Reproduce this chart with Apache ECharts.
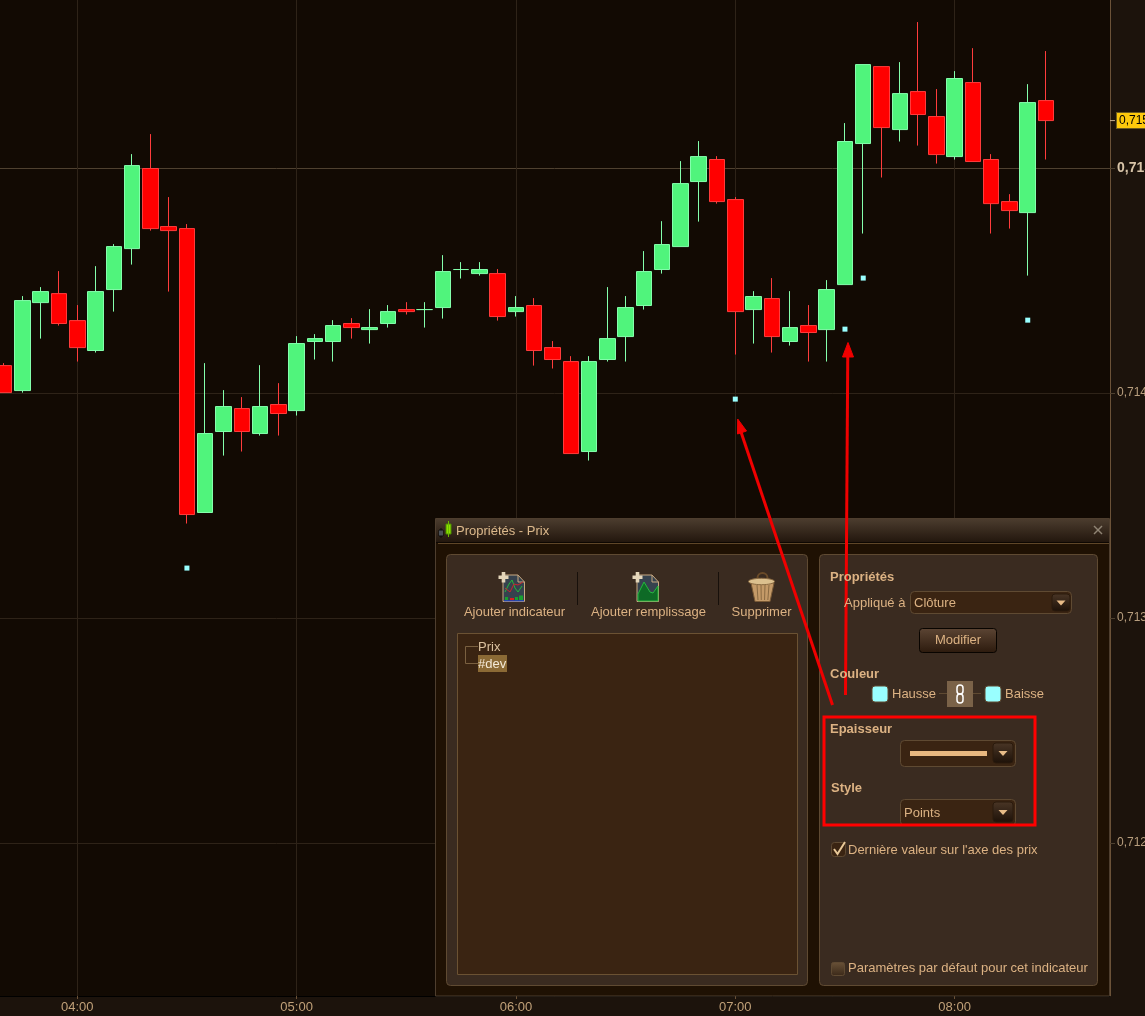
<!DOCTYPE html>
<html><head><meta charset="utf-8">
<style>html,body{margin:0;padding:0;background:#1c130c;overflow:hidden}#c{width:1145px;height:1016px}</style>
<script src="https://cdn.jsdelivr.net/npm/echarts@6/dist/echarts.min.js"></script>
</head><body><div id="c"></div>
<script>
const categories=['03:40','03:45','03:50','03:55','04:00','04:05','04:10','04:15','04:20','04:25','04:30','04:35','04:40','04:45','04:50','04:55','05:00','05:05','05:10','05:15','05:20','05:25','05:30','05:35','05:40','05:45','05:50','05:55','06:00','06:05','06:10','06:15','06:20','06:25','06:30','06:35','06:40','06:45','06:50','06:55','07:00','07:05','07:10','07:15','07:20','07:25','07:30','07:35','07:40','07:45','07:50','07:55','08:00','08:05','08:10','08:15','08:20','08:25','08:30','08:35','08:40'];
const opens=[.714122,.714011,.714402,.714442,.714322,.714189,.714460,.714642,.714998,.714740,.714731,.713469,.713829,.713931,.713820,.713949,.713922,.714229,.714229,.714309,.714282,.714309,.714371,.714371,.714380,.714549,.714531,.714531,.714362,.714389,.714202,.714140,.713740,.714149,.714251,.714389,.714549,.714651,.714940,.715038,.714860,.714371,.714420,.714229,.714300,.714282,.714482,.715109,.715451,.715171,.715340,.715229,.715051,.715380,.715038,.714851,.714802,.715300];
const closes=[.714002,.714411,.714451,.714309,.714202,.714451,.714651,.715011,.714731,.714722,.713460,.713820,.713940,.713829,.713940,.713909,.714220,.714242,.714300,.714291,.714291,.714362,.714362,.714371,.714540,.714549,.714549,.714340,.714380,.714189,.714149,.713731,.714140,.714242,.714380,.714540,.714660,.714931,.715051,.714851,.714362,.714429,.714251,.714291,.714269,.714460,.715118,.715460,.715180,.715331,.715238,.715060,.715398,.715029,.714842,.714811,.715291,.715211];
const lows=[.714002,.714002,.714242,.714300,.714140,.714180,.714362,.714571,.714722,.714451,.713420,.713469,.713722,.713740,.713811,.713811,.713900,.714149,.714140,.714242,.714220,.714291,.714349,.714291,.714331,.714509,.714522,.714322,.714340,.714122,.714109,.713731,.713700,.714140,.714140,.714371,.714531,.714651,.714762,.714842,.714171,.714220,.714180,.714211,.714140,.714140,.714482,.714709,.714958,.715118,.715100,.715020,.715038,.715029,.714709,.714731,.714522,.715038];
const highs=[.714133,.714431,.714471,.714542,.714391,.714564,.714662,.715062,.715151,.714871,.714751,.714133,.714013,.713982,.714124,.714044,.714253,.714262,.714324,.714333,.714373,.714391,.714404,.714404,.714613,.714582,.714582,.714551,.714431,.714422,.714231,.714164,.714164,.714471,.714431,.714631,.714764,.715031,.715120,.715053,.714871,.714453,.714511,.714453,.714391,.714502,.715200,.715460,.715451,.715471,.715649,.715351,.715431,.715533,.715062,.714884,.715373,.715520];
const devTimes=['04:30','07:00','07:30','07:35','08:20'];
const devValues=[.713222,.713973,.714284,.714511,.714324];
const priceTicks=[.712,.713,.714,.715];
const lastClose=closes[closes.length-1];
const yMin=.71132,yMax=.715747;
const isHour=(i)=>categories[i].endsWith(':00');

const TAN='#dcb283',FONT='"Liberation Sans",Arial,sans-serif';
const G=[];
const grad=(a,b)=>({type:'linear',x:0,y:0,x2:0,y2:1,colorStops:[{offset:0,color:a},{offset:1,color:b}]});
const rect=(x,y,w,h,fill,stroke,r,lw)=>G.push({type:'rect',z:50,silent:true,shape:{x:x,y:y,width:w,height:h,r:r||0},style:{fill:fill||'none',stroke:stroke||'none',lineWidth:lw||1}});
const text=(x,y,s,opt)=>{opt=opt||{};G.push({type:'text',z:52,silent:true,x:x,y:y,style:{text:s,fill:opt.c||TAN,font:(opt.b?'bold ':'')+(opt.s||13)+'px '+FONT,textAlign:opt.a||'left',textVerticalAlign:'middle'}})};
const line=(x1,y1,x2,y2,c,lw)=>G.push({type:'line',z:51,silent:true,shape:{x1,y1,x2,y2},style:{stroke:c,lineWidth:lw||1}});
const poly=(pts,fill,stroke,lw,z)=>G.push({type:'polygon',z:z||51,silent:true,shape:{points:pts},style:{fill:fill||'none',stroke:stroke||'none',lineWidth:lw||1}});
const pline=(pts,c,lw)=>G.push({type:'polyline',z:51,silent:true,shape:{points:pts},style:{stroke:c,lineWidth:lw||1,fill:'none'}});
const dropBtn=(x,y,w,h)=>{rect(x,y,w,h,grad('#4a3626','#1d1108'),'#2a1a0c',3);poly([[x+w/2-4.5,y+h/2-2],[x+w/2+4.5,y+h/2-2],[x+w/2,y+h/2+3]],'#e8bc88')};
const combo=(x,y,w,h)=>rect(x+.5,y+.5,w,h,'#3a2412','#5f4a32',4);

// dialog
rect(435.5,518.5,674,477.5,'#1f1103','#4e3e2e');
rect(436,519,673,24,grad('#4b3c2e','#21150c'));
line(436,542.5,1109,542.5,'#0d0702');line(438,543.5,1109,543.5,'#5f4628');
rect(439,530,4,6,'#8a94a0','#0a0a0a');line(441,528,441,538,'#0a0a0a');
rect(446,524,5,10,'#8ce000','#4a8a00');line(448.5,521,448.5,537,'#6bb800');
text(456,531,'Propriétés - Prix',{c:'#dcb98c'});
line(1094,526,1102,534,'#8f8474',1.5);line(1102,526,1094,534,'#8f8474',1.5);
// left box
rect(446.5,554.5,361,431,'#3a2b20','#5f4a32',4);
line(577.5,572,577.5,605,'#17100b');line(718.5,572,718.5,605,'#17100b');
text(514.5,612,'Ajouter indicateur',{a:'center'});
text(648.5,612,'Ajouter remplissage',{a:'center'});
text(761.5,612,'Supprimer',{a:'center'});
const doc=(x)=>{poly([[x,575],[x+15,575],[x+21.5,582],[x+21.5,601.5],[x,601.5]],'#36424e','#c8a880',1);pline([[x+15,575],[x+15,582],[x+21.5,582]],'#c8a880',1)};
const plus=(x)=>{poly([[x-1.8,572],[x+1.8,572],[x+1.8,575.5],[x+5,575.5],[x+5,579],[x+1.8,579],[x+1.8,582.5],[x-1.8,582.5],[x-1.8,579],[x-5,579],[x-5,575.5],[x-1.8,575.5]],'#e4d6ba',null,1,53)};
doc(503);
pline([[505,592],[509,584],[512,580],[515,588],[518,592],[522,586]],'#22b83a',1);
pline([[505,588],[510,592],[514,584],[518,585],[523,582]],'#c8262e',1);
poly([[505,597],[508,597],[508,600.5],[505,600.5]],'#18a030');poly([[510,598],[514,598],[514,600.5],[510,600.5]],'#d82020');poly([[515,597],[518,597],[518,600.5],[515,600.5]],'#18a030');poly([[519,595.5],[523,595.5],[523,600.5],[519,600.5]],'#18a030');
line(504,600.8,524,600.8,'#2040c0',1.2);
plus(503.5);
doc(637);
poly([[638,598],[638,594],[644,582],[650,592],[653,593],[658,586],[658,601],[638,601]],'#0e6a26','#24b83e',1);
plus(637.5);
// trash
G.push({type:'arc',z:51,silent:true,shape:{cx:762.5,cy:578,r:5,startAngle:Math.PI,endAngle:0},style:{stroke:'#6a4a28',lineWidth:2,fill:'none'}});
poly([[751,583],[774,583],[770,601.5],[755,601.5]],'#c49a68','#7a5a36',1);
for(const x of [757,761,765,769])line(x,585,x-(x-762.5)*.18,600,'#8a6a42',1);
G.push({type:'ellipse',z:51,silent:true,shape:{cx:761.5,cy:581.5,rx:13,ry:3.2},style:{fill:'#dcc08e',stroke:'#8a6a42'}});
// tree
rect(457.5,633.5,340,341,'#3a2412','#6b5233');
pline([[478,646.5],[465.5,646.5],[465.5,663.5],[478,663.5]],'#7a6040',1);
text(478,647,'Prix',{c:'#dcc2a0'});
rect(478,655,29,17,'#8b6a35');
text(478,664,'#dev',{c:'#f4ead8'});
// right box
rect(819.5,554.5,278,431,'#3a2b20','#5f4a32',4);
text(830,577,'Propriétés',{b:1});
text(844,603,'Appliqué à');
combo(910,591,161,22);text(914,603,'Clôture');dropBtn(1052,594,18,17);
rect(919.5,628.5,77,24,grad('#5c4534','#2c1a0d'),'#080400',3);
text(958,640.5,'Modifier',{a:'center'});
text(830,674,'Couleur',{b:1});
rect(872,686,16,16,'#99ffff','#5f4a32',3);text(892,694,'Hausse');
line(939,693.5,947,693.5,'#5f4a32');line(973,693.5,981,693.5,'#5f4a32');
rect(947,681,26,26,'#7a6248');
G.push({type:'rect',z:51,silent:true,shape:{x:957,y:685,width:6,height:9,r:3},style:{fill:'none',stroke:'#fff',lineWidth:1.5}});
G.push({type:'rect',z:51,silent:true,shape:{x:957,y:694,width:6,height:9,r:3},style:{fill:'none',stroke:'#fff',lineWidth:1.5}});
rect(985,686,16,16,'#99ffff','#5f4a32',3);text(1005,694,'Baisse');
text(830,729,'Epaisseur',{b:1});
combo(900,740,115,26);rect(910,751,77,5,'#e8b880');dropBtn(993,743,20,20);
text(831,788,'Style',{b:1});
combo(900,799,115,26);text(904,813,'Points');dropBtn(993,802,20,20);
rect(831.5,842.5,14,14,'#3a2412','#5f4a32',3);
pline([[834,849],[837.5,854],[845,842]],'#e8c898',2);
text(848,850,"Dernière valeur sur l'axe des prix");
rect(831.5,962.5,13,13,grad('#6a5238','#3a2818'),'#5f4a32',2);
text(848,968,'Paramètres par défaut pour cet indicateur');
// annotations
rect(824,717,211,108,'none','#ff0000',0,3);
line(832.5,705,739,426,'#f00000',3);
poly([[737.7,419],[737.5,434],[746.5,431]],'#f00000','#f00000',1,53);
line(845.5,695,847.8,350,'#f00000',3);
poly([[848,342.5],[842.5,357],[853.5,357]],'#f00000','#f00000',1,53);

const chart=echarts.init(document.getElementById('c'),null,{renderer:'canvas'});
chart.setOption({
 animation:false,
 backgroundColor:'#1c130c',
 grid:{show:true,left:-5,width:1115,top:0,height:996,backgroundColor:'#120a03',borderWidth:0,outerBoundsMode:'none',containLabel:false},
 xAxis:{type:'category',data:categories,
  axisLine:{show:true,lineStyle:{color:'#000000'}},
  axisTick:{show:true,interval:isHour,alignWithLabel:true,length:3,lineStyle:{color:'#6b5238'}},
  axisLabel:{interval:isHour,color:'#c0a078',fontFamily:FONT,fontSize:13,margin:5},
  splitLine:{show:true,interval:isHour,alignWithLabel:true,lineStyle:{color:'#2e2318'}}},
 yAxis:{type:'value',position:'right',min:yMin,max:yMax,scale:true,
  axisLine:{show:true,lineStyle:{color:'#6b5238'}},
  axisTick:{show:true,customValues:priceTicks,length:5,lineStyle:{color:'#4f4130'}},
  axisLabel:{customValues:priceTicks,color:'#b89e7e',fontFamily:FONT,fontSize:12,margin:7,
   formatter:(v)=>{const s=v.toFixed(3).replace('.',',');return v===.715?'{b|'+s+'}':s},
   rich:{b:{fontWeight:'bold',fontSize:14,color:'#d8c4a8',fontFamily:FONT}}},
  splitLine:{show:true,lineStyle:{color:['#2e2318','#2e2318','#2e2318','#4f4130']}}},
 series:[
  {type:'candlestick',barWidth:16,clip:false,
   data:opens.map((o,i)=>[o,closes[i],lows[i],highs[i]]),
   itemStyle:{color:'#50f47c',color0:'#ff0000',borderColor:'#84ffac',borderColor0:'#ff3c3c',borderColorDoji:'#84ffac',borderWidth:1}},
  {type:'scatter',symbol:'rect',symbolSize:5,itemStyle:{color:'#99ffff',opacity:1},data:devTimes.map((t,i)=>[t,devValues[i]])},
  {type:'scatter',clip:false,z:10,symbol:'rect',symbolSize:[5,1],symbolOffset:[11.6,0],silent:true,
   itemStyle:{color:'#c8b090',opacity:1},data:[[categories[categories.length-1],lastClose]],
   label:{show:true,position:'right',distance:2,formatter:()=>lastClose.toFixed(3).replace('.',','),color:'#000',fontFamily:FONT,fontSize:12,
    backgroundColor:'#fdc80c',borderColor:'#6b5a20',borderWidth:1,padding:[2,8,1,2]}}
 ],
 graphic:{elements:G}
});
</script></body></html>
